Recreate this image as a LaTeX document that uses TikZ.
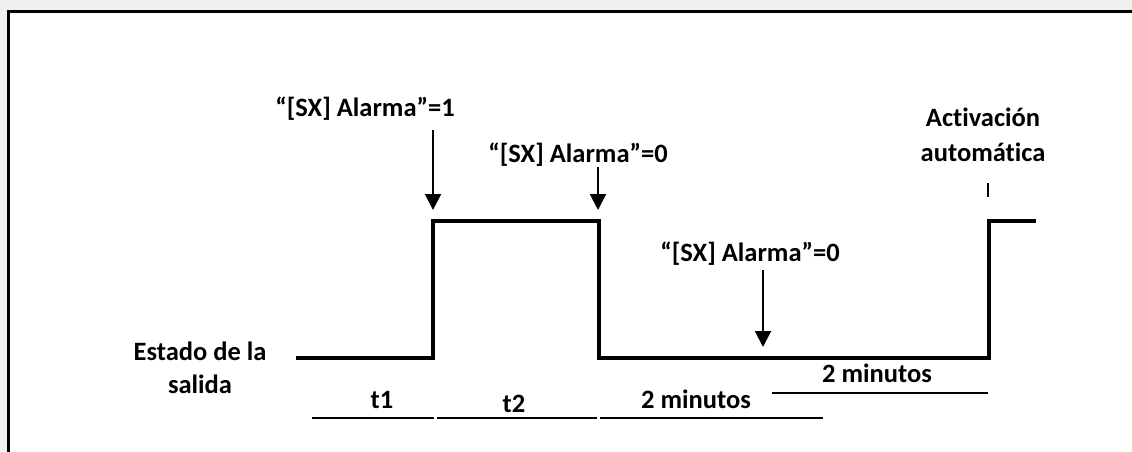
\documentclass[tikz,border=0pt]{standalone}
\usepackage{fontspec}
\setmainfont{Carlito}[Ligatures={NoCommon}]
\usetikzlibrary{arrows.meta}
\definecolor{bggray}{HTML}{F0F0F0}
\tikzset{
  lbl/.style={font=\bfseries\fontsize{26.5}{32}\selectfont, inner sep=0pt, anchor=base},
  wave/.style={line width=4pt, line join=miter, line cap=rect},
  evarrow/.style={line width=2pt, -{Triangle[width=16pt,length=16pt]}},
  span/.style={line width=1.3pt},
}
\begin{document}
\begin{tikzpicture}[x=1pt,y=-1pt]
\useasboundingbox (0,0) rectangle (1132,451);
\fill[bggray] (0,0) rectangle (1132,451);
\begin{scope}
\clip (0,0) rectangle (1132,451);
\draw[line width=3pt, fill=white] (8.5,11.5) rectangle (1145,465);
\end{scope}
% waveform
\coordinate (w0) at (298,358);
\coordinate (w1) at (433,358);
\coordinate (w2) at (433,221);
\coordinate (w3) at (599,221);
\coordinate (w4) at (599,358);
\coordinate (w5) at (989,358);
\coordinate (w6) at (989,221);
\coordinate (w7) at (1034,221);
\draw[wave] (w0) -- (w1) -- (w2) -- (w3) -- (w4) -- (w5) -- (w6) -- (w7);
% labels
\node[lbl] (a1) at (365,116) {“[SX] Alarma”=1};
\node[lbl] (a2) at (578,162) {“[SX] Alarma”=0};
\node[lbl] (a3) at (750,261) {“[SX] Alarma”=0};
\node[lbl] (act1) at (983,126) {Activación};
\node[lbl] (act2) at (983,161) {automática};
\node[lbl] (est1) at (200,360) {Estado de la};
\node[lbl] (est2) at (200,393) {salida};
% arrows
\coordinate (s1) at (433,130);
\coordinate (e1) at (433,210);
\coordinate (s2) at (598,167);
\coordinate (e2) at (598,210);
\coordinate (s3) at (763,270);
\coordinate (e3) at (763,347);
\draw[evarrow] (s1) -- (e1);
\draw[evarrow] (s2) -- (e2);
\draw[evarrow] (s3) -- (e3);
% tick
\coordinate (k1) at (988,183);
\coordinate (k2) at (988,197);
\draw[line width=2pt] (k1) -- (k2);
% spans
\coordinate (t1a) at (312,418);
\coordinate (t1b) at (434,418);
\coordinate (t2a) at (437,418);
\coordinate (t2b) at (597,418);
\coordinate (m1a) at (600,418);
\coordinate (m1b) at (823,418);
\coordinate (m2a) at (772,393);
\coordinate (m2b) at (988,393);
\draw[span] (t1a) -- (t1b);
\draw[span] (t2a) -- (t2b);
\draw[span] (m1a) -- (m1b);
\draw[span] (m2a) -- (m2b);
\node[lbl] (lt1) at (382,408) {t1};
\node[lbl] (lt2) at (514,412) {t2};
\node[lbl] (lm1) at (696,408) {2 minutos};
\node[lbl] (lm2) at (877,382) {2 minutos};
\end{tikzpicture}
\end{document}
